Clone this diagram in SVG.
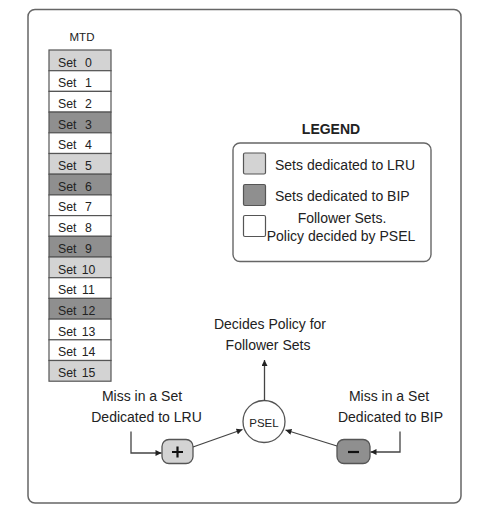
<svg xmlns="http://www.w3.org/2000/svg" width="488" height="522" viewBox="0 0 488 522">
<style>
text{font-family:"Liberation Sans",Arial,sans-serif;fill:#222;}
.t14{font-size:14px;}
.set{font-size:12.3px;}
.lt{stroke:#555;stroke-width:1.2;fill:#d3d3d3;}
.dk{stroke:#555;stroke-width:1.2;fill:#8f8f8f;}
.wh{stroke:#555;stroke-width:1.2;fill:#fff;}
.conn{stroke:#444;stroke-width:1.3;fill:none;}
</style>
<defs>
<marker id="ah" viewBox="0 0 10 10" refX="10" refY="5" markerWidth="7" markerHeight="6" markerUnits="userSpaceOnUse" orient="auto">
<path d="M0,0 L10,5 L0,10 z" fill="#222"/>
</marker>
</defs>
<rect x="0" y="0" width="488" height="522" fill="#fff"/>
<rect id="frame" x="28" y="9.5" width="433" height="493.5" rx="7" fill="none" stroke="#666" stroke-width="1.5"/>

<g id="mtd">
<text x="82" y="40.5" font-size="11.5" text-anchor="middle">MTD</text>
<g id="set0"><rect class="lt" x="49" y="50" width="62" height="20.7"/><text class="set" x="58" y="66.5">Set</text><text class="set" x="88.5" y="66.5" text-anchor="middle">0</text></g>
<g id="set1"><rect class="wh" x="49" y="70.7" width="62" height="20.7"/><text class="set" x="58" y="87.2">Set</text><text class="set" x="88.5" y="87.2" text-anchor="middle">1</text></g>
<g id="set2"><rect class="wh" x="49" y="91.4" width="62" height="20.7"/><text class="set" x="58" y="107.9">Set</text><text class="set" x="88.5" y="107.9" text-anchor="middle">2</text></g>
<g id="set3"><rect class="dk" x="49" y="112.1" width="62" height="20.7"/><text class="set" x="58" y="128.6">Set</text><text class="set" x="88.5" y="128.6" text-anchor="middle">3</text></g>
<g id="set4"><rect class="wh" x="49" y="132.8" width="62" height="20.7"/><text class="set" x="58" y="149.3">Set</text><text class="set" x="88.5" y="149.3" text-anchor="middle">4</text></g>
<g id="set5"><rect class="lt" x="49" y="153.5" width="62" height="20.7"/><text class="set" x="58" y="170">Set</text><text class="set" x="88.5" y="170" text-anchor="middle">5</text></g>
<g id="set6"><rect class="dk" x="49" y="174.2" width="62" height="20.7"/><text class="set" x="58" y="190.7">Set</text><text class="set" x="88.5" y="190.7" text-anchor="middle">6</text></g>
<g id="set7"><rect class="wh" x="49" y="194.9" width="62" height="20.7"/><text class="set" x="58" y="211.4">Set</text><text class="set" x="88.5" y="211.4" text-anchor="middle">7</text></g>
<g id="set8"><rect class="wh" x="49" y="215.6" width="62" height="20.7"/><text class="set" x="58" y="232.1">Set</text><text class="set" x="88.5" y="232.1" text-anchor="middle">8</text></g>
<g id="set9"><rect class="dk" x="49" y="236.3" width="62" height="20.7"/><text class="set" x="58" y="252.8">Set</text><text class="set" x="88.5" y="252.8" text-anchor="middle">9</text></g>
<g id="set10"><rect class="lt" x="49" y="257" width="62" height="20.7"/><text class="set" x="58" y="273.5">Set</text><text class="set" x="88.5" y="273.5" text-anchor="middle">10</text></g>
<g id="set11"><rect class="wh" x="49" y="277.7" width="62" height="20.7"/><text class="set" x="58" y="294.2">Set</text><text class="set" x="88.5" y="294.2" text-anchor="middle">11</text></g>
<g id="set12"><rect class="dk" x="49" y="298.4" width="62" height="20.7"/><text class="set" x="58" y="314.9">Set</text><text class="set" x="88.5" y="314.9" text-anchor="middle">12</text></g>
<g id="set13"><rect class="wh" x="49" y="319.1" width="62" height="20.7"/><text class="set" x="58" y="335.6">Set</text><text class="set" x="88.5" y="335.6" text-anchor="middle">13</text></g>
<g id="set14"><rect class="wh" x="49" y="339.8" width="62" height="20.7"/><text class="set" x="58" y="356.3">Set</text><text class="set" x="88.5" y="356.3" text-anchor="middle">14</text></g>
<g id="set15"><rect class="lt" x="49" y="360.5" width="62" height="20.7"/><text class="set" x="58" y="377">Set</text><text class="set" x="88.5" y="377" text-anchor="middle">15</text></g>
</g>

<g id="legend">
<text x="331" y="133.5" font-size="14" font-weight="bold" text-anchor="middle">LEGEND</text>
<rect x="233" y="143" width="198" height="118.5" rx="7" fill="#fff" stroke="#666" stroke-width="1.4"/>
<rect class="lt" x="243.5" y="153" width="22" height="21" rx="1.5"/>
<text class="t14" x="275" y="169.5">Sets dedicated to LRU</text>
<rect class="dk" x="243.5" y="184.5" width="22" height="21" rx="1.5"/>
<text class="t14" x="275" y="201">Sets dedicated to BIP</text>
<rect class="wh" x="243.5" y="215.5" width="22" height="21" rx="1.5"/>
<text class="t14" x="342" y="222.5" text-anchor="middle">Follower Sets.</text>
<text class="t14" x="341" y="241" text-anchor="middle">Policy decided by PSEL</text>
</g>

<g id="output-label">
<text class="t14" x="270" y="329" text-anchor="middle">Decides Policy for</text>
<text class="t14" x="268" y="350" text-anchor="middle">Follower Sets</text>
</g>

<g id="lru-label">
<text class="t14" x="142" y="400.5" text-anchor="middle">Miss in a Set</text>
<text class="t14" x="146.5" y="421.5" text-anchor="middle">Dedicated to LRU</text>
</g>

<g id="bip-label">
<text class="t14" x="389" y="400.5" text-anchor="middle">Miss in a Set</text>
<text class="t14" x="390.5" y="421.5" text-anchor="middle">Dedicated to BIP</text>
</g>

<g id="psel">
<circle cx="264" cy="421.5" r="21" fill="#fff" stroke="#555" stroke-width="1.3"/>
<text x="264" y="426.5" font-size="11.5" text-anchor="middle">PSEL</text>
</g>

<g id="plus">
<rect x="162" y="439.5" width="31" height="24" rx="7" fill="#d3d3d3" stroke="#555" stroke-width="1.3"/>
<path d="M177.5,446.5 V457.5 M172,452 H183" stroke="#111" stroke-width="2.2"/>
</g>

<g id="minus">
<rect x="337" y="439.5" width="33" height="24" rx="7" fill="#8f8f8f" stroke="#555" stroke-width="1.3"/>
<path d="M348,452 H359" stroke="#111" stroke-width="2.2"/>
</g>

<g id="connectors">
<path class="conn" d="M264.5,400.5 V360" marker-end="url(#ah)"/>
<path class="conn" d="M131,431.5 V453 H161.5" marker-end="url(#ah)"/>
<path class="conn" d="M193,447 L242.5,429.5" marker-end="url(#ah)"/>
<path class="conn" d="M400,431.5 V452 H370.5" marker-end="url(#ah)"/>
<path class="conn" d="M337,446 L285.5,430" marker-end="url(#ah)"/>
</g>
</svg>
